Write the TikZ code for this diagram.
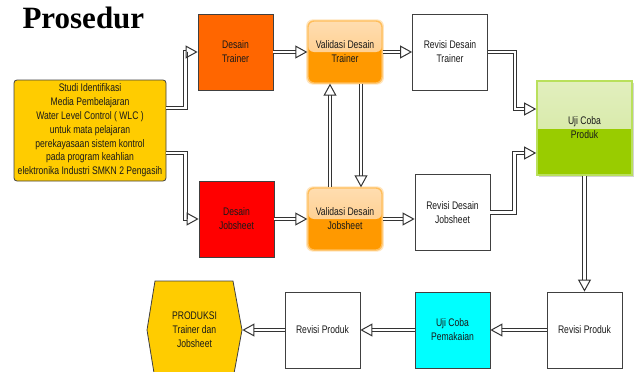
\documentclass[tikz,border=0pt]{standalone}
\usepackage{fontspec}
\setmainfont{Liberation Sans}
\newfontfamily\boxfont{Liberation Sans}[FakeStretch=0.78]
\newfontfamily\titlefont{Liberation Serif}
\usetikzlibrary{arrows.meta,shadows}

\definecolor{studiyellow}{HTML}{FFCC00}
\definecolor{trainerorange}{HTML}{FF6600}
\definecolor{jobred}{HTML}{FF0000}
\definecolor{valtop}{HTML}{FFDDB0}
\definecolor{valmid}{HTML}{FFC477}
\definecolor{valbottom}{HTML}{FF9900}
\definecolor{valedge}{HTML}{FFBE5C}
\definecolor{ujitop}{HTML}{E2EFBE}
\definecolor{ujimid}{HTML}{D0E69A}
\definecolor{ujibottom}{HTML}{99CC00}
\definecolor{ujiedge}{HTML}{B9E05C}
\definecolor{pakaicyan}{HTML}{00FFFF}

\tikzset{
	box/.style={draw=black!75,line width=0.8pt,minimum width=75pt,minimum height=76pt,inner sep=1pt,align=center,text=black!90,font=\boxfont\fontsize{11}{14}\selectfont},
	valbox/.style={box,draw=valedge,line width=1.4pt,rounded corners=6pt,fill=valbottom,minimum width=74pt,minimum height=62pt,
		drop shadow={shadow xshift=0pt,shadow yshift=0pt,shadow scale=1.05,fill=valedge,opacity=0.4},
		path picture={\fill[top color=valtop,bottom color=valmid] (path picture bounding box.north west) rectangle (path picture bounding box.east);}},
	ujibox/.style={box,draw=ujiedge,line width=1.6pt,fill=ujibottom,minimum width=95pt,minimum height=94pt,
		drop shadow={shadow xshift=2pt,shadow yshift=-2pt,opacity=0.35},
		path picture={\fill[top color=ujitop,bottom color=ujimid] (path picture bounding box.north west) rectangle (path picture bounding box.east);}},
	arr/.style={draw=black!80,double=white,double distance=2.4pt,line width=1pt,-{Triangle[open,length=12pt,width=13pt,line width=1pt]}},
}

\begin{document}
\begin{tikzpicture}[x=1pt,y=-1pt]
	\useasboundingbox (0,0) rectangle (638,372);
	\node[anchor=base west,font=\titlefont\bfseries\fontsize{31}{31}\selectfont] (title) at (19,28) {Prosedur};
	\node[box,fill=studiyellow,rounded corners=3pt,minimum width=152pt,minimum height=101pt,font=\boxfont\fontsize{11}{13.8}\selectfont] (studi) at (90,130.5) {Studi Identifikasi\\Media Pembelajaran\\Water Level Control ( WLC )\\untuk mata pelajaran\\perekayasaan sistem kontrol\\pada program keahlian\\elektronika Industri SMKN 2 Pengasih};
	\node[box,fill=trainerorange] (dtrainer) at (235.5,52) {Desain\\Trainer};
	\node[box,fill=jobred] (djob) at (236.5,219) {Desain\\Jobsheet};
	\node[valbox] (vtrainer) at (345,52) {Validasi Desain\\Trainer};
	\node[valbox] (vjob) at (345,219) {Validasi Desain\\Jobsheet};
	\node[box] (rtrainer) at (450,52) {Revisi Desain\\Trainer};
	\node[box] (rjob) at (452.5,212.5) {Revisi Desain\\Jobsheet};
	\node[ujibox] (uji) at (584.5,128) {Uji Coba\\Produk};
	\node[box] (rproduk) at (584.5,330) {Revisi Produk};
	\node[box,fill=pakaicyan] (pakai) at (452.5,330) {Uji Coba\\Pemakaian};
	\node[box] (rproduk2) at (322.5,330) {Revisi Produk};
	\fill[studiyellow,draw=black!75,line width=0.8pt] (155,281) -- (233,281) -- (242,330) -- (233,379) -- (155,379) -- (147,330) -- cycle;
	\node[box,draw=none,minimum width=95pt,minimum height=98pt] (produksi) at (194.5,330) {PRODUKSI\\Trainer dan\\Jobsheet};
	\draw[arr] ([yshift=22.5pt]studi.east) -- ++(19,0) |- (dtrainer);
	\draw[arr] ([yshift=-22.5pt]studi.east) -- ++(19,0) |- (djob);
	\draw[arr] (dtrainer) -- (vtrainer);
	\draw[arr] (djob) -- (vjob);
	\draw[arr] (vtrainer) -- (rtrainer);
	\draw[arr] (vjob) -- (vjob -| rjob.west);
	\draw[arr] ([xshift=16pt]vtrainer.south) -- ([xshift=16pt]vjob.north);
	\draw[arr] ([xshift=-15pt]vjob.north) -- ([xshift=-15pt]vtrainer.south);
	\draw[arr] (rtrainer.east) -- ++(27,0) |- ([yshift=19pt]uji.west);
	\draw[arr] (rjob.east) -- ++(24,0) |- ([yshift=-25pt]uji.west);
	\draw[arr] (uji) -- (rproduk);
	\draw[arr] (rproduk) -- (pakai);
	\draw[arr] (pakai) -- (rproduk2);
	\draw[arr] (rproduk2) -- (produksi);
\end{tikzpicture}
\end{document}
